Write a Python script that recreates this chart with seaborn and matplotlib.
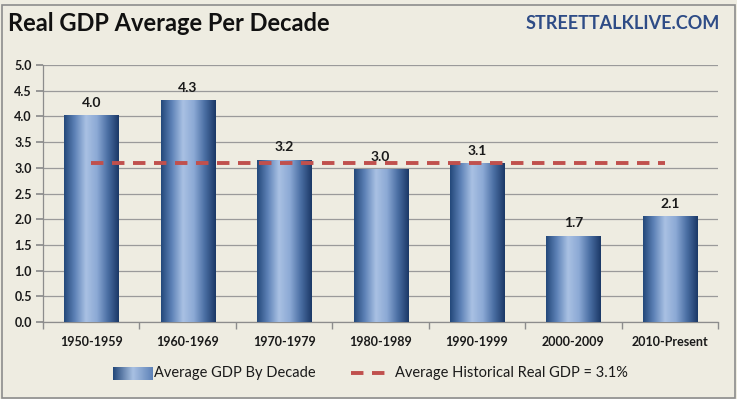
import numpy as np
import pandas as pd
import seaborn as sns
import matplotlib.pyplot as plt
from matplotlib.colors import LinearSegmentedColormap
from matplotlib.lines import Line2D
from matplotlib.patches import Rectangle

# Chart data
decades = ['1950-1959', '1960-1969', '1970-1979', '1980-1989',
           '1990-1999', '2000-2009', '2010-Present']
avg_gdp = [4.02, 4.32, 3.16, 2.97, 3.10, 1.68, 2.06]
hist_avg = 3.1

df = pd.DataFrame({'decade': decades, 'gdp': avg_gdp})

bg = '#EEECE1'
sns.set_theme(style='white')
plt.rcParams['font.family'] = ['Lato', 'DejaVu Sans']

fig = plt.figure(figsize=(7.37, 3.99), dpi=100, facecolor=bg)
ax = fig.add_axes([0.0583, 0.193, 0.916, 0.644])
ax.set_facecolor(bg)

sns.barplot(data=df, x='decade', y='gdp', color='#5C7FB5', width=0.56,
            ax=ax, zorder=3, edgecolor='none')

# gradient fill for the bars
cmap = LinearSegmentedColormap.from_list(
    'barg', ['#23487A', '#5F83B8', '#A9C1E3', '#8CA9D5', '#4A6EA3', '#1B3866'])
grad = np.linspace(0, 1, 256).reshape(1, -1)
for p in ax.patches:
    x0, w, h = p.get_x(), p.get_width(), p.get_height()
    im = ax.imshow(grad, cmap=cmap, aspect='auto', extent=[x0, x0 + w, 0, h],
                   zorder=4)
    im.set_clip_path(p)
    ax.text(x0 + w / 2, h + 0.12, f'{h:.1f}', ha='center', va='bottom',
            fontsize=10, fontweight='bold', color='#1A1A1A', zorder=6)

# historical average
ax.plot([0, 5.95], [hist_avg, hist_avg], color='#C0504D', lw=2.8,
        ls=(0, (3.2, 2.2)), zorder=5)

ax.set_xlim(-0.5, 6.5)
ax.set_ylim(0, 5.0)
ax.set_yticks(np.arange(0, 5.01, 0.5))
ax.set_yticklabels([f'{v:.1f}' for v in np.arange(0, 5.01, 0.5)])
ax.yaxis.grid(True, color='#9A9A9A', lw=0.9, zorder=0)
ax.set_xlabel('')
ax.set_ylabel('')
for s in ['top', 'right']:
    ax.spines[s].set_visible(False)
for s in ['left', 'bottom']:
    ax.spines[s].set_color('#8C8C8C')
    ax.spines[s].set_linewidth(0.9)
ax.tick_params(axis='y', which='both', left=True, length=5, color='#8C8C8C',
               labelsize=9, pad=3)
ax.tick_params(axis='x', bottom=False, labelsize=9, pad=4)
ax.set_xticks(np.arange(-0.5, 7, 1), minor=True)
ax.tick_params(axis='x', which='minor', bottom=True, length=5, color='#8C8C8C')
for lbl in ax.get_xticklabels() + ax.get_yticklabels():
    lbl.set_fontweight('bold')
    lbl.set_color('#1A1A1A')

# titles
fig.text(0.011, 0.942, 'Real GDP Average Per Decade', fontsize=17,
         fontweight='bold', color='#111111', va='center', ha='left')
fig.text(0.977, 0.942, 'STREETTALKLIVE.COM', fontsize=13, fontweight='bold',
         color='#2E4C86', va='center', ha='right')

# legend
leg_y = 0.064
sw = fig.add_axes([0.153, leg_y - 0.016, 0.053, 0.032])
sw.imshow(np.linspace(0, 1, 64).reshape(1, -1),
          cmap=LinearSegmentedColormap.from_list('lg', ['#23487A', '#A9C1E3', '#5F83B8']),
          aspect='auto')
sw.axis('off')
fig.text(0.209, leg_y, 'Average GDP By Decade', fontsize=10.5, va='center',
         color='#1A1A1A')
fig.add_artist(Line2D([0.476, 0.522], [leg_y, leg_y], color='#C0504D', lw=2.8,
                      ls=(0, (3.2, 2.2)), transform=fig.transFigure))
fig.text(0.536, leg_y, 'Average Historical Real GDP = 3.1%', fontsize=10.5,
         va='center', color='#1A1A1A')

# outer frame
fig.add_artist(Rectangle((0.003, 0.003), 0.994, 0.985, fill=False,
                         ec='#8C8C8C', lw=1.2, transform=fig.transFigure))

fig.savefig('out.png', dpi=100, facecolor=bg)
